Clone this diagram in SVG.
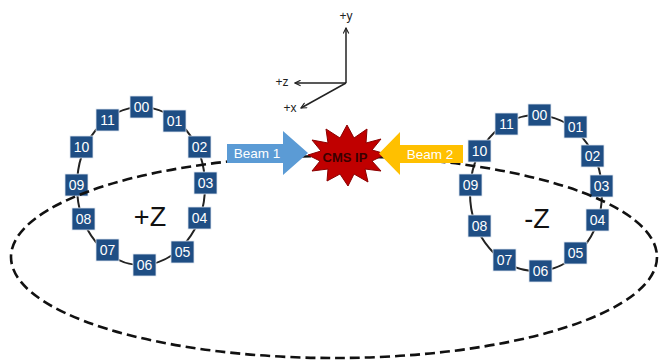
<svg xmlns="http://www.w3.org/2000/svg" width="660" height="361" viewBox="0 0 660 361">
<defs>
<style>
.ring{fill:none;stroke:#222;stroke-width:2}
.box rect{fill:#1F4E84;stroke:#dfe6ef;stroke-width:0.8}
.box text{fill:#fff;font-family:"Liberation Sans",Arial,sans-serif;font-size:14px;text-anchor:middle;dominant-baseline:central}
.zl{fill:#111;font-family:"Liberation Sans",Arial,sans-serif;font-size:27px;text-anchor:middle;dominant-baseline:central}
.ax{stroke:#222;stroke-width:1.5;fill:none;marker-end:url(#ah)}
.axl{fill:#222;font-family:"Liberation Sans",Arial,sans-serif;font-size:12px;text-anchor:middle;dominant-baseline:central}
.beam{fill:#fff;font-family:"Liberation Sans",Arial,sans-serif;font-size:13.5px;text-anchor:middle;dominant-baseline:central}
</style>
<marker id="ah" viewBox="0 0 10 10" refX="9" refY="5" markerWidth="7" markerHeight="7" orient="auto-start-reverse" markerUnits="userSpaceOnUse">
<path d="M1,1 L9,5 L1,9" fill="none" stroke="#222" stroke-width="1.6"/>
</marker>
</defs>

<g id="connectors">
<ellipse class="ring" cx="141" cy="186" rx="64" ry="79"/>
<ellipse class="ring" cx="536" cy="193" rx="66" ry="78"/>
</g>

<g id="ring-plusZ">
<g id="pz00" class="box"><rect x="130" y="96" width="23" height="22"/><text x="141.5" y="107">00</text></g>
<g id="pz01" class="box"><rect x="163" y="110" width="23" height="22"/><text x="174.5" y="121">01</text></g>
<g id="pz02" class="box"><rect x="188" y="136" width="23" height="22"/><text x="199.5" y="147">02</text></g>
<g id="pz03" class="box"><rect x="194" y="172" width="23" height="22"/><text x="205.5" y="183">03</text></g>
<g id="pz04" class="box"><rect x="188" y="207" width="23" height="22"/><text x="199.5" y="218">04</text></g>
<g id="pz05" class="box"><rect x="171" y="241" width="23" height="22"/><text x="182.5" y="252">05</text></g>
<g id="pz06" class="box"><rect x="133" y="254" width="23" height="22"/><text x="144.5" y="265">06</text></g>
<g id="pz07" class="box"><rect x="96" y="239" width="23" height="22"/><text x="107.5" y="250">07</text></g>
<g id="pz08" class="box"><rect x="72" y="208" width="23" height="22"/><text x="83.5" y="219">08</text></g>
<g id="pz09" class="box"><rect x="65" y="174" width="23" height="22"/><text x="76.5" y="185">09</text></g>
<g id="pz10" class="box"><rect x="70" y="136" width="23" height="22"/><text x="81.5" y="147">10</text></g>
<g id="pz11" class="box"><rect x="96" y="109" width="23" height="22"/><text x="107.5" y="120">11</text></g>
<text class="zl" x="150" y="217">+Z</text>
</g>

<g id="ring-minusZ">
<g id="mz00" class="box"><rect x="528" y="104" width="23" height="22"/><text x="539.5" y="115">00</text></g>
<g id="mz01" class="box"><rect x="564" y="116" width="23" height="22"/><text x="575.5" y="127">01</text></g>
<g id="mz02" class="box"><rect x="581" y="145" width="23" height="22"/><text x="592.5" y="156">02</text></g>
<g id="mz03" class="box"><rect x="590" y="175" width="23" height="22"/><text x="601.5" y="186">03</text></g>
<g id="mz04" class="box"><rect x="586" y="209" width="23" height="22"/><text x="597.5" y="220">04</text></g>
<g id="mz05" class="box"><rect x="564" y="242" width="23" height="22"/><text x="575.5" y="253">05</text></g>
<g id="mz06" class="box"><rect x="529" y="260" width="23" height="22"/><text x="540.5" y="271">06</text></g>
<g id="mz07" class="box"><rect x="493" y="249" width="23" height="22"/><text x="504.5" y="260">07</text></g>
<g id="mz08" class="box"><rect x="468" y="215" width="23" height="22"/><text x="479.5" y="226">08</text></g>
<g id="mz09" class="box"><rect x="459" y="174" width="23" height="22"/><text x="470.5" y="185">09</text></g>
<g id="mz10" class="box"><rect x="468" y="140" width="23" height="22"/><text x="479.5" y="151">10</text></g>
<g id="mz11" class="box"><rect x="495" y="113" width="23" height="22"/><text x="506.5" y="124">11</text></g>
<text class="zl" x="537" y="219">-Z</text>
</g>

<g id="accelerator">
<ellipse cx="334" cy="257" rx="323" ry="101" fill="none" stroke="#111" stroke-width="2.6" stroke-dasharray="10 5"/>
</g>

<g id="cms-ip">
<polygon points="386,154 372,161 381,171 365,169 368,182 354,174 348,186 340,174 327,181 328,169 312,171 320,161 308,155 321,151 312,140 328,143 326,129 340,138 347,125 354,138 367,129 366,143 381,139 372,150" fill="#C00000" stroke="#8B0000" stroke-width="1"/>
<text x="345" y="157" font-family="'Liberation Sans',Arial,sans-serif" font-size="13" font-weight="bold" fill="#3a0000" text-anchor="middle" dominant-baseline="central">CMS IP</text>
</g>

<g id="beam1">
<polygon points="227,144 283,144 283,131 308,153 283,175 283,163 227,163" fill="#5B9BD5"/>
<text class="beam" x="257" y="153.5">Beam 1</text>
</g>

<g id="beam2">
<polygon points="463,145 400,145 400,132 379,153.5 400,175 400,163 463,163" fill="#FFC000"/>
<text class="beam" x="430" y="154">Beam 2</text>
</g>

<g id="axes">
<line class="ax" x1="346" y1="83" x2="346" y2="28"/>
<line class="ax" x1="346" y1="83" x2="295" y2="83"/>
<line class="ax" x1="346" y1="83" x2="301" y2="108"/>
<text class="axl" x="346" y="16">+y</text>
<text class="axl" x="282" y="82">+z</text>
<text class="axl" x="290" y="108">+x</text>
</g>
</svg>
